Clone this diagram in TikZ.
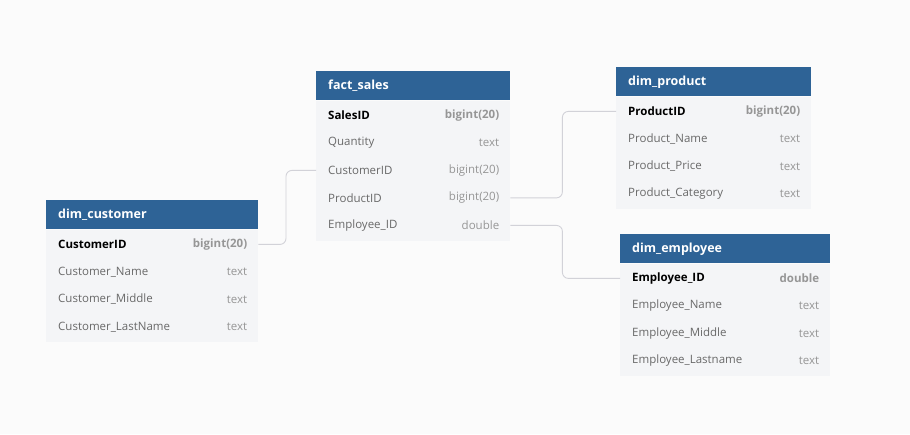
\documentclass[tikz,border=0pt]{standalone}
\usepackage{fontspec}
\setmainfont{Open Sans}
\definecolor{hdrblue}{RGB}{46,99,150}
\definecolor{bodyfill}{RGB}{244,245,247}
\definecolor{bgc}{RGB}{251,251,251}
\definecolor{nametxt}{RGB}{105,105,105}
\definecolor{typetxt}{RGB}{150,150,150}
\definecolor{conncol}{RGB}{210,210,216}
\tikzset{
  hdr/.style={fill=hdrblue, draw=none, minimum height=29pt, inner sep=0pt, rectangle},
  hdrtext/.style={text=white, font=\fontsize{12.5}{14}\selectfont\bfseries, inner sep=0pt},
  body/.style={fill=bodyfill, draw=none, inner sep=0pt, rectangle},
  rowbox/.style={draw=none, inner sep=0pt, minimum height=27.5pt, rectangle},
  nametext/.style={text=nametxt, font=\fontsize{11.5}{13}\selectfont, inner sep=0pt},
  typetext/.style={text=typetxt, font=\fontsize{11.5}{13}\selectfont, inner sep=0pt},
  conn/.style={draw=conncol, line width=0.9pt, rounded corners=6pt}
}
% #1 id, #2 x, #3 y top, #4 width, #5 title, #6 number of rows, #7 rows
\newcommand{\erdtable}[7]{%
  \node[hdr, minimum width=#4pt, anchor=north west] (#1) at (#2pt,-#3pt) {};
  \node[body, minimum width=#4pt, minimum height=#6*27.5pt+2.5pt, anchor=north west] (#1-body) at (#1.south west) {};
  \node[hdrtext, anchor=west] (#1-title) at ([xshift=12pt,yshift=-0.5pt]#1.west) {#5};
  \foreach [count=\i] \n/\t in {#7} {
    \node[rowbox, minimum width=#4pt] (#1-\i) at ([yshift=-15pt-(\i-1)*27.5pt]#1.south) {};
    \ifnum\i=1
      \node[nametext, text=black, font=\fontsize{11.5}{13}\selectfont\bfseries, anchor=west] (#1-\i-n) at ([xshift=12pt]#1-\i.west) {\n};
      \node[typetext, font=\fontsize{11.5}{13}\selectfont\bfseries, anchor=east] (#1-\i-t) at ([xshift=-11pt]#1-\i.east) {\t};
    \else
      \node[nametext, anchor=west] (#1-\i-n) at ([xshift=12pt]#1-\i.west) {\n};
      \node[typetext, anchor=east] (#1-\i-t) at ([xshift=-11pt]#1-\i.east) {\t};
    \fi
  }%
}
\begin{document}
\begin{tikzpicture}[x=1pt,y=1pt]
\fill[bgc] (0,0) rectangle (910,-434);
\useasboundingbox (0,0) rectangle (910,-434);

\erdtable{fs}{316}{71}{194}{fact\_sales}{5}{SalesID/bigint(20), Quantity/text, CustomerID/bigint(20), ProductID/bigint(20), Employee\_ID/double}
\erdtable{cu}{46}{200}{212}{dim\_customer}{4}{CustomerID/bigint(20), Customer\_Name/text, Customer\_Middle/text, Customer\_LastName/text}
\erdtable{pr}{616}{67}{195}{dim\_product}{4}{ProductID/bigint(20), Product\_Name/text, Product\_Price/text, Product\_Category/text}
\erdtable{em}{620}{234}{210}{dim\_employee}{4}{Employee\_ID/double, Employee\_Name/text, Employee\_Middle/text, Employee\_Lastname/text}

\draw[conn] (fs-3.west) -- ++(-30,0) |- (cu-1.east);
\draw[conn] (fs-4.east) -- ++(52,0) |- (pr-1.west);
\draw[conn] (fs-5.east) -- ++(52,0) |- (em-1.west);
\end{tikzpicture}
\end{document}
